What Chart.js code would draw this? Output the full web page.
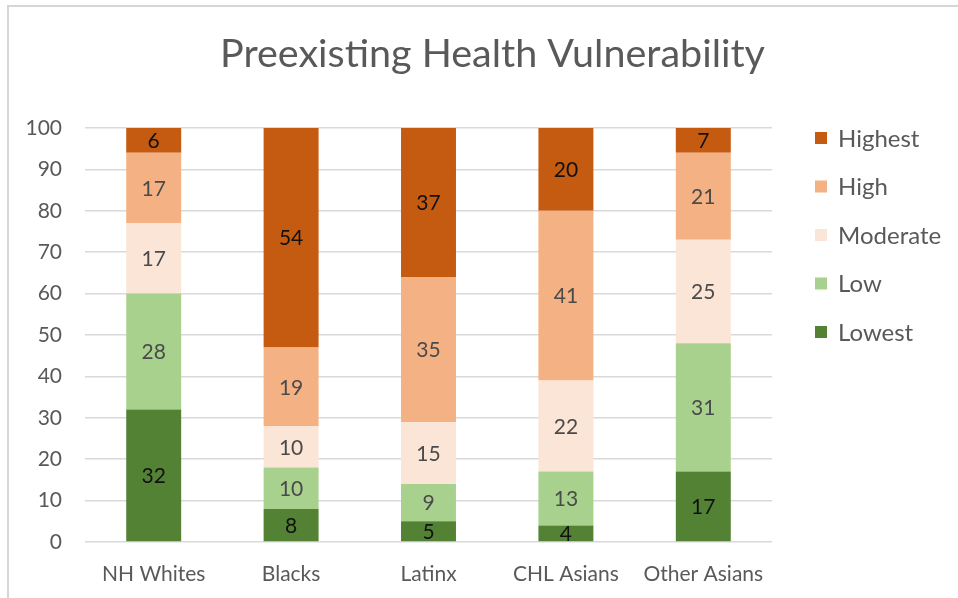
<!DOCTYPE html>
<html>
<head>
<meta charset="utf-8">
<script src="https://cdn.jsdelivr.net/npm/chart.js@4"></script>
<style>
    html, body { margin: 0; padding: 0; background: #fff; }
    #wrap { position: relative; width: 958px; height: 598px; }
    #frame { position: absolute; left: 7px; top: 5px; right: 0; bottom: 0; border-left: 2px solid #d6d6d6; border-top: 2px solid #d6d6d6; pointer-events: none; }
    canvas { position: absolute; left: 0; top: 0; }
</style>
</head>
<body>
<div id="wrap">
    <canvas id="chart" width="958" height="598"></canvas>
    <div id="frame"></div>
</div>
<script>
const categories = ['NH Whites', 'Blacks', 'Latinx', 'CHL Asians', 'Other Asians'];
const lowest   = [32, 8, 5, 4, 17];
const low      = [28, 10, 9, 13, 31];
const moderate = [17, 10, 15, 22, 25];
const high     = [17, 19, 35, 41, 21];
const highest  = [6, 54, 37, 20, 7];
const yTicks   = [0, 10, 20, 30, 40, 50, 60, 70, 80, 90, 100];

const FONT = 'Lato, "Open Sans", sans-serif';

// dataset order = bottom to top of each stack
const series = [
    { label: 'Lowest',   data: lowest,   color: '#548235', text: '#111111' },
    { label: 'Low',      data: low,      color: '#a9d18e', text: '#4a4a4a' },
    { label: 'Moderate', data: moderate, color: '#fbe5d6', text: '#4a4a4a' },
    { label: 'High',     data: high,     color: '#f4b183', text: '#4a4a4a' },
    { label: 'Highest',  data: highest,  color: '#c55a11', text: '#111111' }
];

// numbers in the middle of each segment
const segmentLabels = {
    id: 'segmentLabels',
    afterDatasetsDraw(chart) {
        const ctx = chart.ctx;
        ctx.save();
        ctx.font = '21px ' + FONT;
        ctx.textAlign = 'center';
        ctx.textBaseline = 'middle';
        chart.data.datasets.forEach((ds, i) => {
            chart.getDatasetMeta(i).data.forEach((bar, j) => {
                const top = Math.max(bar.y, chart.chartArea.top);
                ctx.fillStyle = series[i].text;
                ctx.fillText(ds.data[j], bar.x, (top + bar.base) / 2 + 1);
            });
        });
        ctx.restore();
    }
};

// legend on the right, highest first
const sideLegend = {
    id: 'sideLegend',
    afterDraw(chart) {
        const ctx = chart.ctx;
        ctx.save();
        ctx.font = '24px ' + FONT;
        ctx.textBaseline = 'middle';
        const x = chart.chartArea.right + 43;
        const y0 = chart.chartArea.top + 10;
        series.slice().reverse().forEach((s, k) => {
            const y = y0 + k * 48.5;
            ctx.fillStyle = s.color;
            ctx.fillRect(x, y - 6, 12, 12);
            ctx.fillStyle = '#595959';
            ctx.fillText(s.label, x + 23, y + 1);
        });
        ctx.restore();
    }
};

new Chart(document.getElementById('chart'), {
    type: 'bar',
    data: {
        labels: categories,
        datasets: series.map(s => ({
            label: s.label,
            data: s.data,
            backgroundColor: s.color,
            borderWidth: 0,
            categoryPercentage: 1,
            barPercentage: 0.4
        }))
    },
    options: {
        responsive: false,
        animation: false,
        layout: { padding: { top: 0, right: 0, bottom: 0, left: 27 } },
        plugins: {
            legend: { display: false },
            tooltip: { enabled: false },
            title: {
                display: true,
                text: 'Preexisting Health Vulnerability',
                color: '#595959',
                font: { family: FONT, size: 39.5, weight: 'normal' },
                padding: { top: 31, bottom: 49.6 }
            }
        },
        scales: {
            x: {
                stacked: true,
                grid: { display: false, drawTicks: false },
                border: { display: false },
                ticks: { color: '#595959', font: { family: FONT, size: 21 }, padding: 20, maxRotation: 0 },
                afterFit: s => { s.height = 56; }
            },
            y: {
                stacked: true,
                min: 0,
                max: 100,
                afterBuildTicks: axis => { axis.ticks = yTicks.map(v => ({ value: v })); },
                grid: { color: '#d9d9d9', lineWidth: 1.5, drawTicks: false },
                border: { display: false },
                ticks: { color: '#595959', font: { family: FONT, size: 21 }, padding: 23 },
                afterFit: s => { s.width = 58; }
            },
            // empty strip on the right that leaves room for the legend
            room: {
                position: 'right',
                grid: { display: false, drawTicks: false },
                border: { display: false },
                ticks: { display: false },
                afterFit: s => { s.width = 186; }
            }
        }
    },
    plugins: [segmentLabels, sideLegend]
});
</script>
</body>
</html>
